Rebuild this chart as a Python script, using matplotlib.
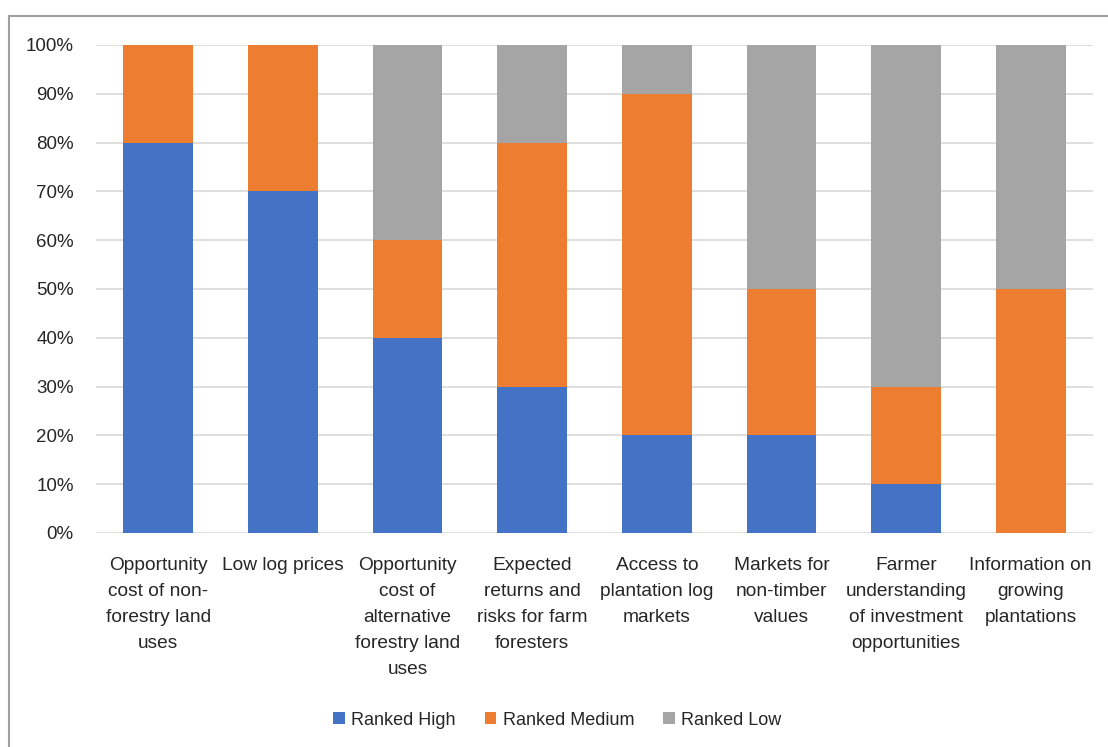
import numpy as np
import matplotlib.pyplot as plt
from matplotlib.patches import Rectangle
from matplotlib.ticker import PercentFormatter

plt.rcParams['font.family'] = ['Liberation Sans', 'DejaVu Sans']

categories = ['Opportunity\ncost of non-\nforestry land\nuses', 'Low log prices',
              'Opportunity\ncost of\nalternative\nforestry land\nuses',
              'Expected\nreturns and\nrisks for farm\nforesters',
              'Access to\nplantation log\nmarkets', 'Markets for\nnon-timber\nvalues',
              'Farmer\nunderstanding\nof investment\nopportunities',
              'Information on\ngrowing\nplantations']
ranked_high = [80, 70, 40, 30, 20, 20, 10, 0]
ranked_medium = [20, 30, 20, 50, 70, 30, 20, 50]
ranked_low = [0, 0, 40, 20, 10, 50, 70, 50]

fig = plt.figure(figsize=(11.08, 7.47), dpi=100)
ax = fig.add_axes([0.0866, 0.2865, 0.8999, 0.6533])

x = np.arange(len(categories))
w = 0.56
ax.bar(x, ranked_high, w, color='#4472c4', label='Ranked High', zorder=3)
ax.bar(x, ranked_medium, w, bottom=ranked_high, color='#ed7d31', label='Ranked Medium', zorder=3)
bot = np.array(ranked_high) + np.array(ranked_medium)
ax.bar(x, ranked_low, w, bottom=bot, color='#a5a5a5', label='Ranked Low', zorder=3)

ax.set_xlim(-0.5, 7.5)
ax.set_ylim(0, 100)
ax.set_yticks(np.arange(0, 101, 10))
ax.yaxis.set_major_formatter(PercentFormatter(decimals=0))
ax.grid(axis='y', color='#d9d9d9', lw=1.2, zorder=0)
for s in ax.spines.values():
    s.set_visible(False)
ax.tick_params(axis='both', length=0, labelcolor='#262626')
ax.tick_params(axis='y', pad=16, labelsize=13.5)
ax.tick_params(axis='x', pad=17, labelsize=13.8)
ax.set_xticks(x)
ax.set_xticklabels(categories, linespacing=1.7)

fig.legend(loc='center', bbox_to_anchor=(0.503, 0.036), ncol=3, frameon=False,
           fontsize=13, handlelength=0.65, handleheight=0.65, handletextpad=0.35,
           columnspacing=1.6, labelcolor='#262626')

fig.patches.append(Rectangle((0.0081, -0.1), 1.2, 1.0786, transform=fig.transFigure,
                             fill=False, edgecolor='#a0a0a0', lw=1.5))

fig.savefig('out.png', dpi=100)
